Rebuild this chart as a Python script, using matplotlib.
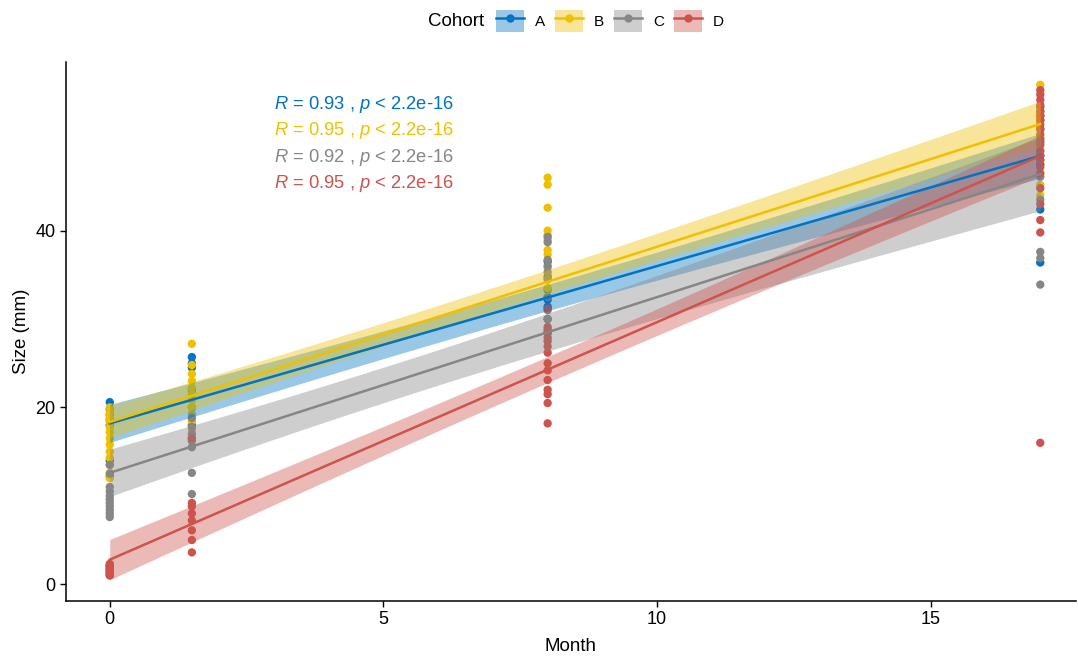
# cohort_size_plot.py

import numpy as np
import matplotlib.pyplot as plt
from matplotlib.lines import Line2D
from matplotlib.patches import Patch

plt.rcParams["font.family"] = ["Liberation Sans", "DejaVu Sans"]
plt.rcParams["mathtext.fontset"] = "custom"
plt.rcParams["mathtext.it"] = "Liberation Sans:italic"
plt.rcParams["mathtext.rm"] = "Liberation Sans"

# months at which each cohort was measured
months = [0, 1.5, 8, 17]

# sizes (mm) per cohort, one list per month
size_a = [
    [20.6, 19.8, 19.2, 18.6, 18.0, 14.0, 12.2],
    [25.7, 25.0, 24.5, 22.0, 20.0, 18.0, 16.5],
    [36.5, 34.8, 33.3, 32.2, 31.4, 30.0, 28.5],
    [54.0, 53.0, 52.5, 51.5, 50.0, 48.5, 47.5, 42.4, 36.4],
]
size_b = [
    [20.0, 19.4, 18.9, 18.4, 17.8, 17.2, 16.5, 15.8, 15.0, 14.3, 13.5, 12.6, 12.0],
    [27.2, 24.8, 23.8, 23.0, 22.2, 21.5, 20.8, 20.0, 19.2, 18.4, 17.5, 16.5],
    [46.0, 45.2, 42.6, 39.5, 39.0, 40.0, 37.8, 37.3, 35.8, 34.5, 33.5, 32.5],
    [56.5, 53.0, 52.5, 50.5, 50.5, 49.1, 48.0, 46.5, 45.2, 44.0],
]
size_c = [
    [13.5, 12.5, 11.0, 10.5, 10.0, 9.6, 9.2, 8.8, 8.4, 8.0, 7.6],
    [18.8, 17.8, 17.0, 16.2, 15.5, 12.6, 10.2],
    [39.3, 38.7, 36.7, 36.0, 35.3, 34.5, 32.5, 31.0, 30.0],
    [53.5, 46.1, 43.5, 37.6, 36.9, 33.9],
]
size_d = [
    [2.3, 2.2, 2.1, 2.0, 1.9, 1.8, 1.7, 1.6, 1.5, 1.4, 1.3, 1.2, 1.1, 1.0, 1.0],
    [16.5, 9.2, 8.8, 8.0, 7.2, 6.1, 5.0, 3.6],
    [31.2, 29.1, 28.8, 28.4, 27.9, 27.5, 26.9, 26.2, 25.0, 24.2, 23.1, 22.0,
     21.5, 20.5, 18.2],
    [55.9, 55.4, 54.8, 54.2, 53.5, 53.0, 52.5, 52.0, 51.5, 50.9, 50.3, 49.7,
     49.0, 48.5, 48.0, 47.2, 46.5, 44.8, 43.0, 41.2, 39.8, 16.0],
]

cohorts = ["A", "B", "C", "D"]
sizes = [size_a, size_b, size_c, size_d]
colors = ["#0073C2", "#EFC000", "#868686", "#CD534C"]
r_values = ["0.93", "0.95", "0.92", "0.95"]


fig = plt.figure(figsize=(10.78, 6.58), dpi=100)
ax = fig.add_axes([0.0612, 0.0866, 0.9368, 0.8194])

for name, groups, col in zip(cohorts, sizes, colors):
    x = np.concatenate([np.full(len(g), m) for m, g in zip(months, groups)])
    y = np.concatenate([np.array(g) for g in groups])

    # points first, smooth on top (like ggscatter)
    ax.scatter(x, y, s=36, c=col, edgecolors="none", zorder=2)

    # linear fit with 95% confidence band
    slope, intercept = np.polyfit(x, y, 1)
    n = len(x)
    resid = y - (intercept + slope * x)
    s = np.sqrt(np.sum(resid ** 2) / (n - 2))
    sxx = np.sum((x - x.mean()) ** 2)
    xs = np.linspace(x.min(), x.max(), 100)
    fit = intercept + slope * xs
    half = 2.02 * s * np.sqrt(1 / n + (xs - x.mean()) ** 2 / sxx)
    ax.fill_between(xs, fit - half, fit + half, color=col, alpha=0.4,
                    linewidth=0, zorder=3)
    ax.plot(xs, fit, color=col, lw=1.8, zorder=4)

# correlation labels
for i, (r, col) in enumerate(zip(r_values, colors)):
    ax.text(3.0, 54.3 - i * 3.0,
            r"$\it{R}$ = " + r + r" , $\it{p}$ < 2.2e-16",
            color=col, fontsize=13.2, ha="left", va="center")

ax.set_xlim(-0.8, 17.65)
ax.set_ylim(-1.9, 59.1)
ax.set_xticks([0, 5, 10, 15])
ax.set_yticks([0, 20, 40])
ax.tick_params(labelsize=13, length=4, width=1, colors="black")
ax.set_xlabel("Month", fontsize=13.5, labelpad=7)
ax.set_ylabel("Size (mm)", fontsize=13.5, labelpad=4)

ax.spines["top"].set_visible(False)
ax.spines["right"].set_visible(False)
ax.spines["left"].set_linewidth(1.1)
ax.spines["bottom"].set_linewidth(1.1)

# legend at the top
handles = [
    (Patch(facecolor=col, alpha=0.4, edgecolor="none"),
     Line2D([], [], color=col, lw=1.8, marker="o", markersize=6,
            markeredgecolor="none"))
    for col in colors
]
fig.legend(handles, cohorts, loc="center left", bbox_to_anchor=(0.460, 0.968),
           ncol=4, frameon=False, fontsize=11, handlelength=1.83,
           handleheight=1.83, handletextpad=0.72, columnspacing=0.65,
           borderpad=0.0, borderaxespad=0.0)
fig.text(0.4235, 0.968, "Cohort", fontsize=13.5, ha="center", va="center")

fig.savefig("out.png", dpi=100)
